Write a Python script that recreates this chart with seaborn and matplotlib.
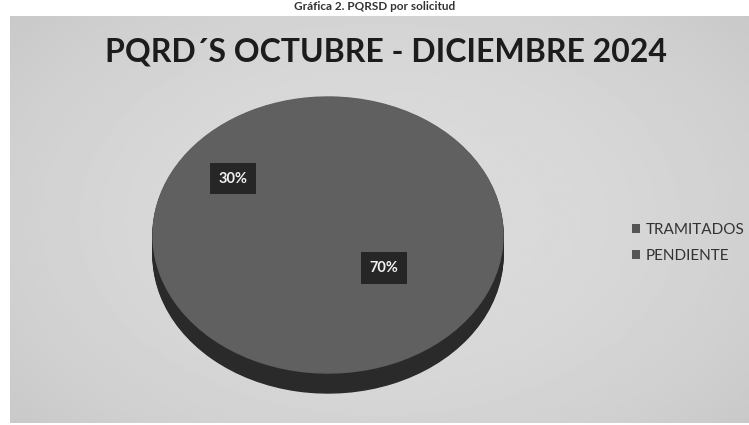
import numpy as np
import matplotlib
matplotlib.use("Agg")
import matplotlib.pyplot as plt
import seaborn as sns

# ---- data ----
categories = ["TRAMITADOS", "PENDIENTE"]
values = [70, 30]
title = "PQRD´S OCTUBRE - DICIEMBRE 2024"
caption = "Gráfica 2. PQRSD por solicitud"

sns.set_theme(style="white")
plt.rcParams['font.family'] = ['Lato', 'DejaVu Sans']

W, H = 749, 425
fig = plt.figure(figsize=(W / 100, H / 100), dpi=100)
fig.patch.set_facecolor("white")

# grey chart panel
panel = fig.add_axes([10 / W, 2 / H, (W - 10) / W, (H - 18) / H])
yy, xx = np.mgrid[-1:1:200j, -1:1:300j]
grad = 0.86 - 0.06 * (xx ** 2 * 0.7 + yy ** 2 * 0.5)
panel.imshow(grad, cmap="gray", vmin=0, vmax=1, aspect="auto", extent=[0, 1, 0, 1])
panel.set_axis_off()

# caption
fig.text(0.5, 1 - 7 / H, caption, ha="center", va="center", fontsize=8.5,
         fontweight="bold", color="#333333")

# title
fig.text(386 / W, 1 - 52 / H, title, ha="center", va="center", fontsize=23,
         fontweight="bold", color="#1c1c1c")

# pie geometry (pixels)
x0, x1 = 153, 503
ytop, ybot = 97, 373
depth = 20
ry = (ybot - ytop) / 2
dy = depth / ry
ax = fig.add_axes([x0 / W, (H - ybot - depth) / H, (x1 - x0) / W, (ybot - ytop + depth) / H])
ax.set_facecolor("none")

start = 197
side = "#2a2a2a"
for k in np.linspace(dy, 0.005, 16):
    ax.pie(values, colors=[side, side], startangle=start, center=(0, -k),
           wedgeprops=dict(linewidth=1, edgecolor=side))
top = "#606060"
wedges, _ = ax.pie(values, colors=[top, top], startangle=start, center=(0, 0),
                   wedgeprops=dict(linewidth=1, edgecolor=top))
ax.set_aspect("auto")
ax.set_xlim(-1, 1)
ax.set_ylim(-1 - dy, 1)
ax.set_axis_off()

# data labels
dists = [0.40, 0.68]
for w, v, d in zip(wedges, values, dists):
    mid = np.deg2rad((w.theta1 + w.theta2) / 2)
    ax.text(d * np.cos(mid), d * np.sin(mid), f"{v}%", ha="center", va="center",
            fontsize=10.5, fontweight="bold", color="#f2f2f2",
            bbox=dict(boxstyle="square,pad=0.6", fc="#262626", ec="none"))

# legend
handles = [plt.Rectangle((0, 0), 1, 1, fc="#555555", ec="none") for _ in categories]
fig.legend(handles, categories, loc="center left", bbox_to_anchor=(618 / W, 1 - 243 / H),
           frameon=False, fontsize=11, handlelength=0.55, handleheight=0.55,
           handletextpad=0.35, labelspacing=0.75, labelcolor="#333333")

fig.savefig("out.png", dpi=100)
